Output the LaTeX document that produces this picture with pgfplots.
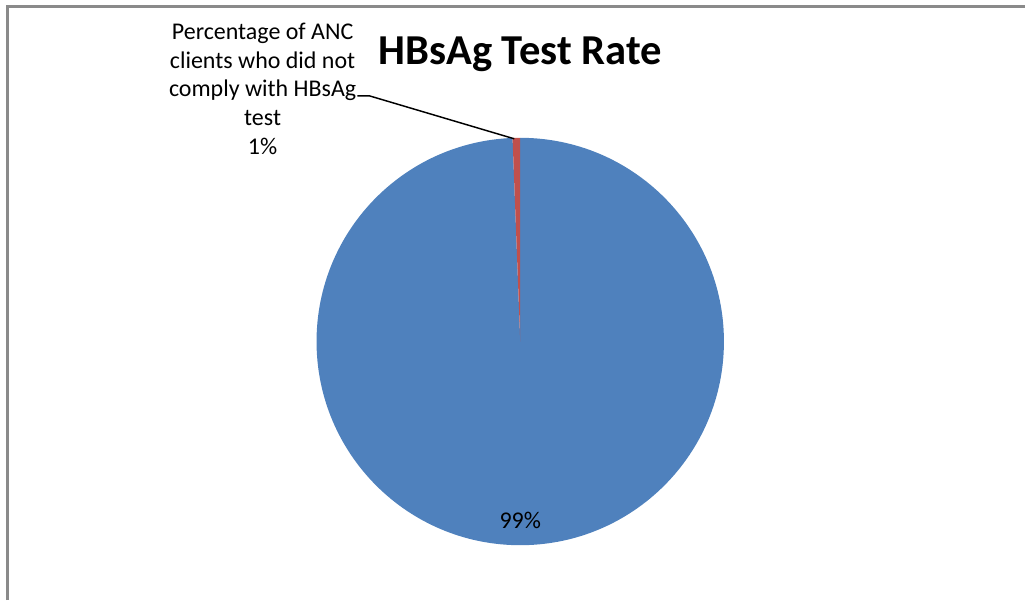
\documentclass[border=0pt]{standalone}
\usepackage{pgfplots}
\pgfplotsset{compat=1.18}
\usepackage{pgfplotstable}
\usepackage{fontspec}
\setmainfont{Carlito}
\definecolor{pieblue}{HTML}{4F81BD}
\definecolor{piered}{HTML}{C0504D}
\definecolor{framegray}{HTML}{8A8A8A}
\pgfplotstableread[col sep=comma]{
category,value
Complied with HBsAg test,99.4
Did not comply with HBsAg test,0.6
}\pietable
\begin{document}
\begin{tikzpicture}
\pgfplotstablegetelem{0}{value}\of\pietable
\pgfmathsetmacro\va{\pgfplotsretval}
\pgfplotstablegetelem{1}{value}\of\pietable
\pgfmathsetmacro\vb{\pgfplotsretval}
\pgfmathsetmacro\fracA{\va/(\va+\vb)}
\pgfmathsetmacro\angA{360*\fracA}
\pgfmathsetmacro\ea{90-\angA}
\pgfmathsetmacro\R{204*0.75}
\begin{axis}[
  x=0.75pt, y=0.75pt,
  xmin=0, xmax=1026, ymin=0, ymax=601,
  y dir=reverse,
  hide axis, scale only axis, clip=false,
  disabledatascaling,
]
\path (axis cs:0,0) rectangle (axis cs:1026,601);
% frame
\draw[framegray, line width=2.25pt] (axis cs:7.5,601) -- (axis cs:7.5,6.5) -- (axis cs:1026,6.5);
% pie slices
\fill[pieblue] (axis cs:521,342) -- ++(90:\R pt) arc[start angle=90, end angle=\ea, radius=\R pt] -- cycle;
\fill[piered] (axis cs:521,342) -- ++(\ea:\R pt) arc[start angle=\ea, end angle=-270, radius=\R pt] -- cycle;
% title
\node[font=\fontsize{32}{38}\selectfont\bfseries] at (axis cs:521,54) {HBsAg Test Rate};
% labels
\node[font=\fontsize{18}{21.75}\selectfont, align=center] at (axis cs:521,521) {99\%};
\node[font=\fontsize{18}{21.75}\selectfont, align=center, anchor=center] at (axis cs:263,89) {Percentage of ANC\\clients who did not\\comply with HBsAg\\test\\1\%};
\draw[black, line width=1.1pt] (axis cs:358,96) -- (axis cs:370,96) -- (axis cs:515,139);
\end{axis}
\end{tikzpicture}
\end{document}
